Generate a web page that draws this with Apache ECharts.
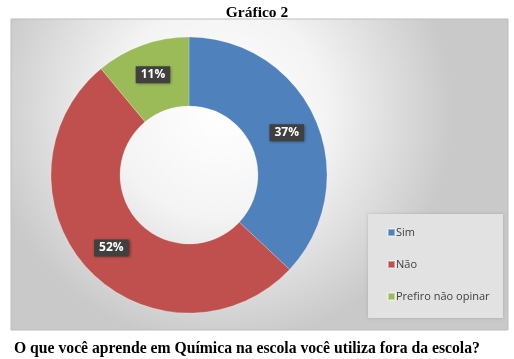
<!DOCTYPE html>
<html><head><meta charset="utf-8">
<script src="https://cdn.jsdelivr.net/npm/echarts@6/dist/echarts.min.js"></script>
<style>html,body{margin:0;padding:0;background:#fff}#c{width:514px;height:359px}</style>
</head><body><div id="c"></div>
<script>
const categories = ['Sim', 'Não', 'Prefiro não opinar'];
const values = [37, 52, 11];
const colors = ['#4F81BD', '#C0504D', '#9BBB59'];

const chart = echarts.init(document.getElementById('c'), null, {renderer: 'canvas'});
chart.setOption({
  animation: false,
  title: [
    {text: 'Gráfico 2', left: 'center', top: 0, textStyle: {fontFamily: 'Liberation Serif', fontWeight: 'bold', fontSize: 15.5, color: '#000'}},
    {text: 'O que você aprende em Química na escola você utiliza fora da escola?', left: 9, top: 336, textStyle: {fontFamily: 'Liberation Serif', fontWeight: 'bold', fontSize: 15.7, color: '#000'}}
  ],
  graphic: [
    {type: 'rect', z: -10, shape: {x: 11, y: 19, width: 497, height: 311},
     style: {fill: {type: 'radial', x: 0.42, y: 0.3, r: 0.75, colorStops: [
       {offset: 0, color: '#ffffff'}, {offset: 0.45, color: '#f4f4f4'}, {offset: 1, color: '#c9c9c9'}]},
       stroke: '#bdbdbd', lineWidth: 1}},
    {type: 'rect', z: -5, shape: {x: 368, y: 214, width: 135, height: 104},
     style: {fill: '#e2e2e2', shadowColor: 'rgba(0,0,0,0.15)', shadowBlur: 3}}
  ],
  legend: {
    orient: 'vertical', left: 368, top: 214,
    padding: [13, 10, 8, 19], itemGap: 21, itemWidth: 7, itemHeight: 7, icon: 'rect',
    textStyle: {fontFamily: 'Open Sans', fontSize: 11, color: '#404040', padding: [0, 0, 0, -4]},
    data: categories
  },
  series: [{
    type: 'pie', center: [189, 175], radius: [69, 138], startAngle: 90, clockwise: true,
    avoidLabelOverlap: false,
    label: {show: true, position: 'inside', formatter: '{c}%', color: '#fff', fontWeight: 'bold',
      fontFamily: 'Open Sans', fontSize: 12, backgroundColor: '#404040', padding: [3, 5, 2, 5],
      shadowColor: 'rgba(0,0,0,0.5)', shadowBlur: 3, shadowOffsetX: 1, shadowOffsetY: 1},
    labelLine: {show: false},
    itemStyle: {borderColor: 'rgba(255,255,255,0.4)', borderWidth: 0.5},
    data: categories.map((n, i) => ({name: n, value: values[i], itemStyle: {color: colors[i]}}))
  }]
});
</script></body></html>
